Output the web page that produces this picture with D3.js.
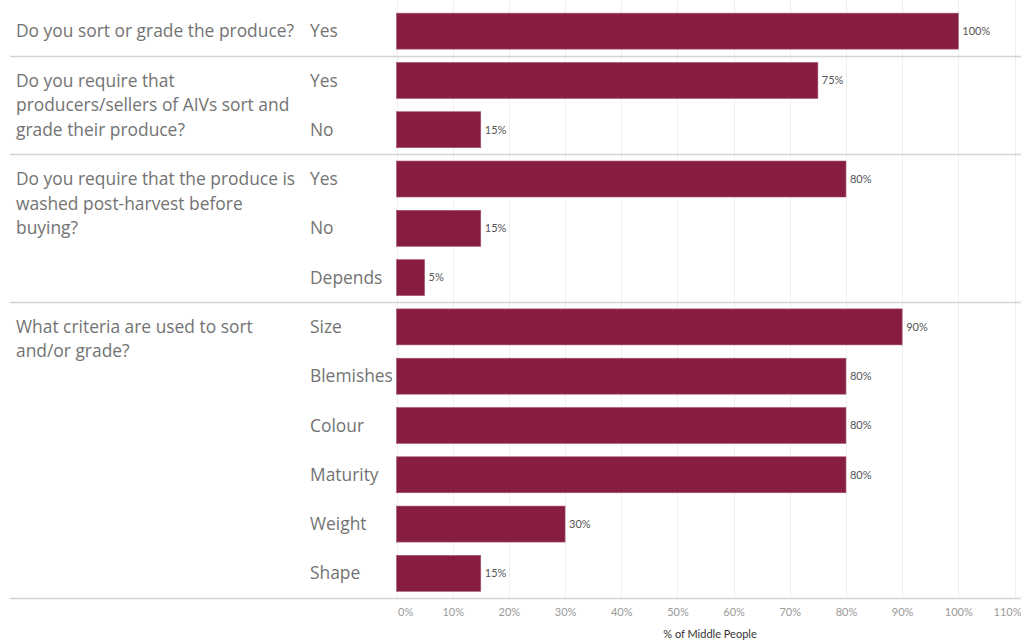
<!DOCTYPE html>
<html><head><meta charset="utf-8">
<script src="https://cdn.jsdelivr.net/npm/d3@7"></script>
<style>body{margin:0;background:#fff;} svg{display:block;}</style>
</head><body>
<script>
const questions = [
  "Do you sort or grade the produce?",
  "Do you require that producers/sellers of AIVs sort and grade their produce?",
  "Do you require that the produce is washed post-harvest before buying?",
  "What criteria are used to sort and/or grade?"
];
const questionLines = [
  ["Do you sort or grade the produce?"],
  ["Do you require that", "producers/sellers of AIVs sort and", "grade their produce?"],
  ["Do you require that the produce is", "washed post-harvest before", "buying?"],
  ["What criteria are used to sort", "and/or grade?"]
];
const answers = [
  ["Yes"],
  ["Yes", "No"],
  ["Yes", "No", "Depends"],
  ["Size", "Blemishes", "Colour", "Maturity", "Weight", "Shape"]
];
const values = [
  [100],
  [75, 15],
  [80, 15, 5],
  [90, 80, 80, 80, 30, 15]
];
const tickValues = [0,10,20,30,40,50,60,70,80,90,100,110];
const axisTitle = "% of Middle People";

const W = 1021, H = 640;
const svg = d3.select("body").append("svg").attr("width", W).attr("height", H);

const rows = [];
questions.forEach((q, qi) => answers[qi].forEach((a, ai) => rows.push({qi, ai, key: qi + "|" + a, answer: a, value: values[qi][ai]})));

const x = d3.scaleLinear().domain([0, 110]).range([396.5, 1014.5]);
const y = d3.scaleBand().domain(rows.map(r => r.key)).range([6.5, 598]).paddingInner(0.27).paddingOuter(0.135);
const step = y.step();

// grid
svg.append("g").selectAll("line").data(tickValues).join("line")
  .attr("x1", d => Math.round(x(d)) + 0.5).attr("x2", d => Math.round(x(d)) + 0.5)
  .attr("y1", 0).attr("y2", 598).attr("stroke", "#efefef").attr("stroke-width", 1);

// group separators
const groupEnds = [];
let idx = 0;
answers.forEach(a => { idx += a.length; groupEnds.push(idx); });
svg.append("g").selectAll("line").data(groupEnds).join("line")
  .attr("x1", 10).attr("x2", W)
  .attr("y1", d => Math.round(6.5 + d * step) + 0.5).attr("y2", d => Math.round(6.5 + d * step) + 0.5)
  .attr("stroke", "#d4d4d4").attr("stroke-width", 1.3);

// bars
svg.append("g").selectAll("rect").data(rows).join("rect")
  .attr("x", x(0)).attr("y", d => y(d.key))
  .attr("width", d => x(d.value) - x(0)).attr("height", y.bandwidth())
  .attr("fill", "#871e42").attr("stroke", "#a5566f").attr("stroke-width", 0.6);

// value labels
svg.append("g").selectAll("text").data(rows).join("text")
  .attr("x", d => x(d.value) + 4).attr("y", d => y(d.key) + y.bandwidth()/2)
  .attr("dy", "0.35em").attr("font-family", "Lato, sans-serif").attr("font-size", 11)
  .attr("fill", "#555").text(d => d.value + "%");

const labelFont = "'Open Sans', sans-serif", labelSize = 17.4, labelColor = "#737373";

// answer labels
svg.append("g").selectAll("text").data(rows).join("text")
  .attr("x", 310).attr("y", d => y(d.key) + y.bandwidth()/2)
  .attr("dy", "0.35em").attr("font-family", labelFont).attr("font-size", labelSize)
  .attr("fill", labelColor).text(d => d.answer);

// question labels
const firstRowOf = [];
idx = 0;
answers.forEach(a => { firstRowOf.push(idx); idx += a.length; });
questionLines.forEach((lines, qi) => {
  const r = rows[firstRowOf[qi]];
  const cy = y(r.key) + y.bandwidth()/2;
  const t = svg.append("text").attr("x", 16).attr("y", cy)
    .attr("font-family", labelFont).attr("font-size", labelSize).attr("fill", labelColor);
  lines.forEach((l, li) => t.append("tspan").attr("x", 16).attr("dy", li === 0 ? "0.35em" : 24.5).text(l));
});

// axis
const axis = d3.axisBottom(x).tickValues(tickValues).tickFormat(d => d + "%").tickSize(0).tickPadding(10);
const ag = svg.append("g").attr("transform", "translate(0,598)").call(axis);
ag.select(".domain").remove();
ag.selectAll("text").attr("font-family", "Lato, sans-serif").attr("font-size", 11).attr("fill", "#999");
ag.selectAll(".tick").filter(d => d === tickValues[0]).select("text").attr("text-anchor", "start").attr("x", 1);
ag.selectAll(".tick").filter(d => d === tickValues[tickValues.length - 1]).select("text")
  .attr("text-anchor", "end").attr("x", W - x(tickValues[tickValues.length - 1]));
svg.append("text").attr("x", 710).attr("y", 638).attr("text-anchor", "middle")
  .attr("font-family", "Lato, sans-serif").attr("font-size", 11).attr("fill", "#333").text(axisTitle);
</script>
</body></html>
